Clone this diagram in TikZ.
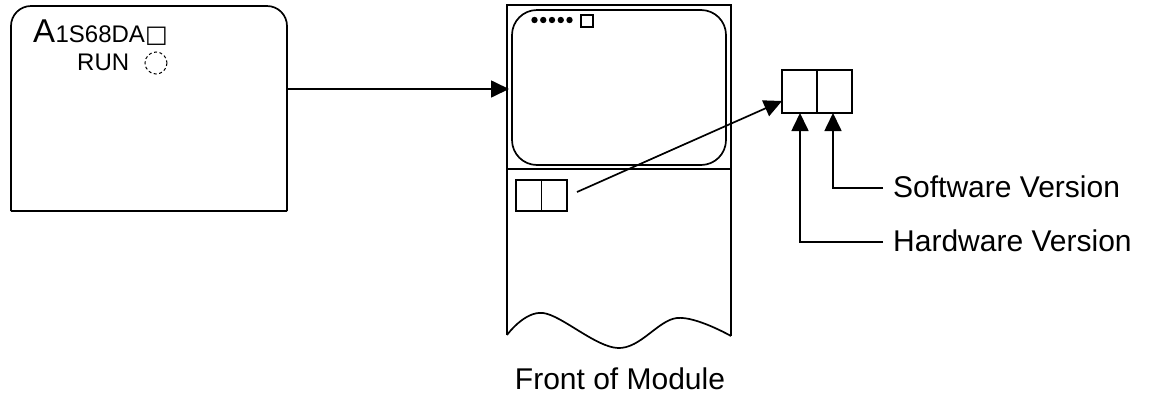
\documentclass[tikz,border=0pt]{standalone}
\usepackage{fontspec}
\setmainfont{Liberation Sans}
\newfontfamily\symfont{DejaVu Sans}
\usetikzlibrary{arrows.meta}
\begin{document}
\begin{tikzpicture}[x=1pt,y=-1pt,
  outline/.style={draw=black,line width=1.7pt},
  arr/.style={line width=1.7pt,-{Triangle[length=18pt,width=17pt]}},
  lbl/.style={font=\fontsize{30}{34}\selectfont,inner sep=0pt},
  small/.style={font=\fontsize{24}{28}\selectfont,inner sep=0pt}]
\useasboundingbox (0,0) rectangle (1154,400);
% left unit
\draw[outline,rounded corners=20pt] (11,211) |- (287,6) -- (287,211);
\draw[outline] (11,211) -- (287,211);
\node[anchor=base west,inner sep=0pt,font=\fontsize{33}{36}\selectfont] (bigA) at (33,42) {A};
\node[anchor=base west,small] (model) at (bigA.base east) {1S68DA{\symfont\fontsize{24}{26}\selectfont □}};
\node[anchor=base west,small] (run) at (77,70) {RUN};
\draw[line width=1pt,dash pattern=on 3pt off 2.5pt] (156,63) circle (11);
\coordinate (lbR) at (287,89);
% module
\draw[outline] (507,335) -- (507,5) -- (731,5) -- (731,336);
\draw[outline] (507,169) -- (731,169);
\draw[outline,rounded corners=25pt] (512,10) rectangle (726,165);
\foreach \i in {0,...,4} \fill (534.5+8.75*\i,20) circle (3.2);
\draw[line width=1.5pt] (581,15) rectangle (593,27);
\draw[outline] plot[smooth,tension=0.6] coordinates {(507,335) (543,313) (618,348) (677,318) (731,336)};
\coordinate (modL) at (509,89);
\node[lbl,anchor=base] (front) at (620,389) {Front of Module};
% small version box on module
\node[outline,minimum width=51pt,minimum height=31pt,inner sep=0pt] (vsmall) at (541.5,195.5) {};
\draw[outline] (vsmall.north) -- (vsmall.south);
\coordinate (vsStart) at (577,192);
% enlarged version box
\node[outline,minimum width=70pt,minimum height=43pt,inner sep=0pt] (vbig) at (817,91.5) {};
\draw[outline] (vbig.north) -- (vbig.south);
\coordinate (vbigL) at (782,101);
\coordinate (hwBot) at (800,113);
\coordinate (swBot) at (833,113);
\coordinate (hwEnd) at (883,242);
\coordinate (swEnd) at (883,188);
\node[lbl,anchor=base west] (sw) at (893,197) {Software Version};
\node[lbl,anchor=base west] (hw) at (893,251) {Hardware Version};
% connectors
\draw[arr] (lbR) -- (modL);
\draw[arr] (vsStart) -- (vbigL);
\draw[arr] (hwEnd) -| (hwBot);
\draw[arr] (swEnd) -| (swBot);
\end{tikzpicture}
\end{document}
